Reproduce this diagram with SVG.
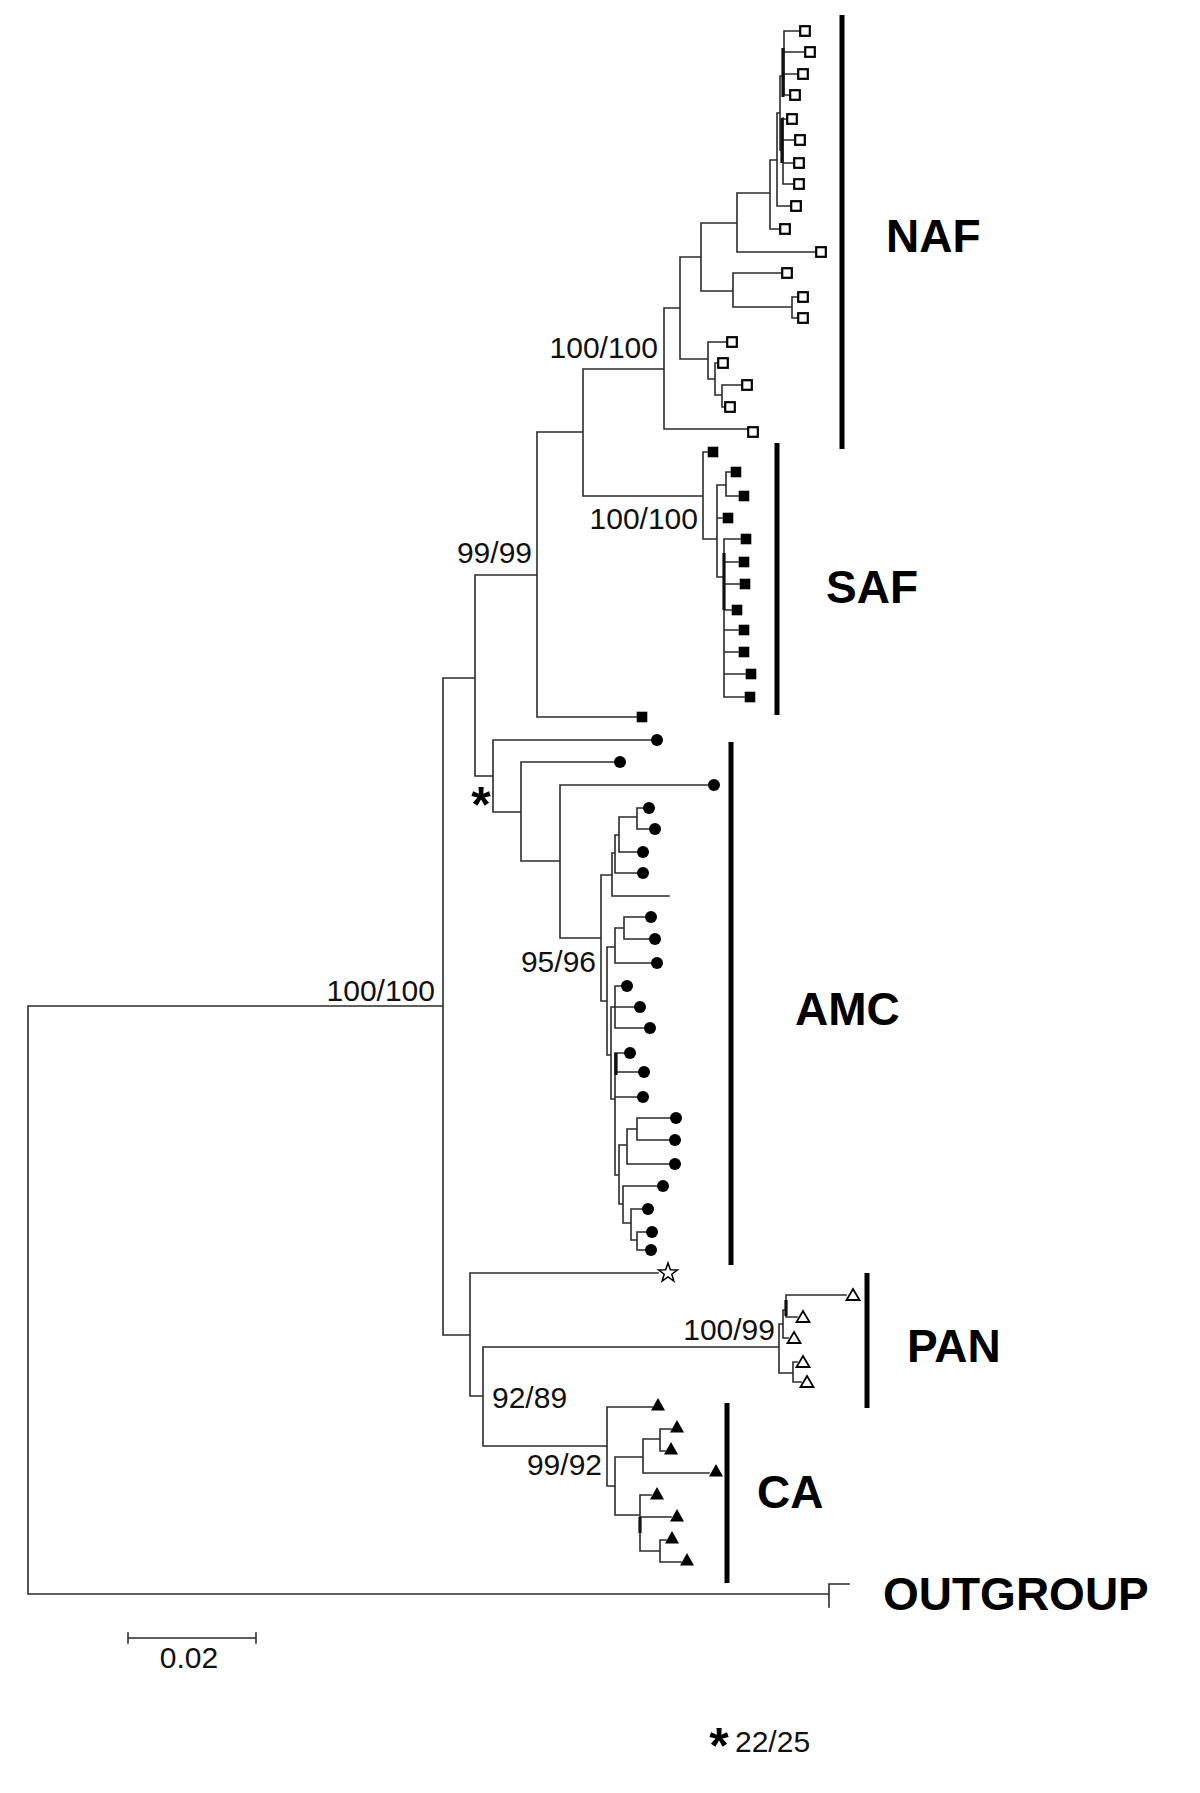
<svg xmlns="http://www.w3.org/2000/svg" xmlns:xlink="http://www.w3.org/1999/xlink" width="1200" height="1793" viewBox="0 0 1200 1793">
<style>
.br{fill:none;stroke:#2b2b2b;stroke-width:1.6;stroke-linecap:square}
.thk{fill:none;stroke:#111;stroke-width:3.2}
.bar{stroke:#000;stroke-width:5}
.bs{font-family:"Liberation Sans",Arial,sans-serif;font-size:30px;fill:#111}
.cl{font-family:"Liberation Sans",Arial,sans-serif;font-size:46px;font-weight:bold;fill:#000}
.ast{font-family:"Liberation Sans",Arial,sans-serif;font-size:50px;font-weight:bold;fill:#000}
</style>
<defs>
<rect id="os" x="-4.8" y="-4.8" width="9.6" height="9.6" fill="#fff" stroke="#000" stroke-width="2.2"/>
<rect id="fs" x="-5.3" y="-5.3" width="10.6" height="10.6" fill="#000"/>
<circle id="ci" r="6" fill="#000"/>
<polygon id="ft" points="0,-7 7,5.5 -7,5.5" fill="#000"/>
<polygon id="ot" points="0,-6 6.5,5 -6.5,5" fill="#fff" stroke="#000" stroke-width="1.8"/>
<polygon id="st" points="0,-10 2.35,-3.24 9.51,-3.09 3.8,1.23 5.88,8.09 0,4 -5.88,8.09 -3.8,1.23 -9.51,-3.09 -2.35,-3.24" fill="#fff" stroke="#000" stroke-width="1.5"/>
</defs>
<rect width="1200" height="1793" fill="#fff"/>

<g id="connectors">
<path class="br" d="M28 1006V1594M28 1006H443M28 1594H829M829 1584V1607M829 1584H849
M443 678V1335M443 678H475M443 1335H470
M475 575V776M475 575H537M475 776H493
M537 432V717M537 432H583M537 717H637
M583 369V496M583 369H664M583 496H703
M664 308V429M664 308H680M664 429H747
M680 257V359M680 257H701M680 359H708
M701 223V291M701 223H737M701 291H733
M737 193V252M737 193H770M737 252H815
M770 160V229M770 160H777M770 229H779
M777 113V206M777 113H780M777 206H790
M780 76V150M780 76H784M780 150H783
M784 31V95M784 31H799M784 52H804M784 74H797M784 95H789
M783 118V184M783 119H786M783 140H794M783 163H793M783 184H793
M733 273V307M733 273H781M733 307H792
M792 297V318M792 297H797M792 318H797
M708 342V379M708 342H726M708 379H715
M715 363V395M715 363H717M715 395H722
M722 385V407M722 385H741M722 407H724
M703 452V539M703 452H707M703 539H717
M717 485V577M717 485H726M717 518H722M717 577H724
M726 472V496M726 472H730M726 496H738
M724 539V697M724 539H740M724 562H738M724 584H739M724 610H731M724 630H738M724 652H738M724 674H745M724 697H744
M493 740V812M493 740H651M493 812H521
M521 762V861M521 762H614M521 861H560
M560 785V938M560 785H708M560 938H601
M601 875V1001M601 875H612M601 1001H607
M612 853V896M612 853H615M612 896H669
M615 835V873M615 835H619M615 873H637
M619 817V852M619 817H637M619 852H637
M637 808V829M637 808H643M637 829H649
M607 947V1055M607 947H615M607 1055H611
M615 928V963M615 928H624M615 963H651
M624 917V939M624 917H645M624 939H649
M611 1007V1099M611 1007H615M611 1099H615
M615 986V1028M615 986H621M615 1007H634M615 1028H644
M615 1053V1175M615 1053H624M615 1072H638M615 1097H637M615 1175H619
M619 1145V1204M619 1145H627M619 1204H623
M627 1129V1164M627 1129H637M627 1164H669
M637 1118V1140M637 1118H670M637 1140H669
M623 1186V1223M623 1186H657M623 1223H631
M631 1209V1240M631 1209H642M631 1240H637
M637 1232V1250M637 1232H646M637 1250H645
M470 1273V1396M470 1273H658M470 1396H483
M483 1347V1446M483 1347H779M483 1446H607
M779 1324V1373M779 1324H783M779 1373H793
M783 1310V1338M783 1310H786M783 1338H788
M786 1295V1317M786 1295H846M786 1317H797
M793 1362V1382M793 1362H797M793 1382H801
M607 1407V1486M607 1407H652M607 1486H615
M615 1457V1515M615 1457H643M615 1515H640
M643 1439V1473M643 1439H660M643 1473H709
M660 1429V1451M660 1429H671M660 1451H665
M640 1495V1551M640 1495H651M640 1517H671M640 1551H660
M660 1540V1562M660 1540H666M660 1562H681"/>
<path class="thk" d="M782 118V163M724 553V610M616 1053V1075M786 1300V1316M640 1517V1533M783 48V97"/>
</g>

<g id="NAF">
<use href="#os" x="805" y="31"/><use href="#os" x="810" y="52"/><use href="#os" x="803" y="74"/><use href="#os" x="795" y="95"/>
<use href="#os" x="792" y="119"/><use href="#os" x="800" y="140"/><use href="#os" x="799" y="163"/><use href="#os" x="799" y="184"/>
<use href="#os" x="796" y="206"/><use href="#os" x="785" y="229"/><use href="#os" x="821" y="252"/><use href="#os" x="787" y="273"/>
<use href="#os" x="803" y="297"/><use href="#os" x="803" y="318"/><use href="#os" x="732" y="342"/><use href="#os" x="723" y="363"/>
<use href="#os" x="747" y="385"/><use href="#os" x="730" y="407"/><use href="#os" x="753" y="432"/>
<line class="bar" x1="842" y1="15" x2="842" y2="449"/>
<text class="cl" x="886" y="252">NAF</text>
</g>

<g id="SAF">
<use href="#fs" x="713" y="452"/><use href="#fs" x="736" y="472"/><use href="#fs" x="744" y="496"/><use href="#fs" x="728" y="518"/>
<use href="#fs" x="746" y="539"/><use href="#fs" x="744" y="562"/><use href="#fs" x="745" y="584"/><use href="#fs" x="737" y="610"/>
<use href="#fs" x="744" y="630"/><use href="#fs" x="744" y="652"/><use href="#fs" x="751" y="674"/><use href="#fs" x="750" y="697"/>
<use href="#fs" x="642" y="717"/>
<line class="bar" x1="777" y1="443" x2="777" y2="715"/>
<text class="cl" x="826" y="603">SAF</text>
</g>

<g id="AMC">
<use href="#ci" x="657" y="740"/><use href="#ci" x="620" y="762"/><use href="#ci" x="714" y="785"/><use href="#ci" x="649" y="808"/>
<use href="#ci" x="655" y="829"/><use href="#ci" x="643" y="852"/><use href="#ci" x="643" y="873"/><use href="#ci" x="651" y="917"/>
<use href="#ci" x="655" y="939"/><use href="#ci" x="657" y="963"/><use href="#ci" x="627" y="986"/><use href="#ci" x="640" y="1007"/>
<use href="#ci" x="650" y="1028"/><use href="#ci" x="630" y="1053"/><use href="#ci" x="644" y="1072"/><use href="#ci" x="643" y="1097"/>
<use href="#ci" x="676" y="1118"/><use href="#ci" x="675" y="1140"/><use href="#ci" x="675" y="1164"/><use href="#ci" x="663" y="1186"/>
<use href="#ci" x="648" y="1209"/><use href="#ci" x="652" y="1232"/><use href="#ci" x="651" y="1250"/>
<line class="bar" x1="731" y1="742" x2="731" y2="1265"/>
<text class="cl" x="795" y="1025">AMC</text>
</g>

<g id="star-tip"><use href="#st" x="668" y="1273"/></g>

<g id="PAN">
<use href="#ot" x="853" y="1295"/><use href="#ot" x="803" y="1317"/><use href="#ot" x="794" y="1338"/><use href="#ot" x="803" y="1362"/><use href="#ot" x="807" y="1382"/>
<line class="bar" x1="867" y1="1273" x2="867" y2="1408"/>
<text class="cl" x="907" y="1362">PAN</text>
</g>

<g id="CA">
<use href="#ft" x="658" y="1405"/><use href="#ft" x="677" y="1427"/><use href="#ft" x="671" y="1449"/><use href="#ft" x="716" y="1471"/>
<use href="#ft" x="657" y="1494"/><use href="#ft" x="677" y="1516"/><use href="#ft" x="672" y="1538"/><use href="#ft" x="687" y="1560"/>
<line class="bar" x1="727" y1="1403" x2="727" y2="1583"/>
<text class="cl" x="757" y="1508">CA</text>
</g>

<g id="OUTGROUP">
<text class="cl" x="883" y="1610">OUTGROUP</text>
</g>

<g id="support-labels">
<text class="bs" x="658" y="358" text-anchor="end">100/100</text>
<text class="bs" x="698" y="529" text-anchor="end">100/100</text>
<text class="bs" x="532" y="563" text-anchor="end">99/99</text>
<text class="bs" x="435" y="1001" text-anchor="end">100/100</text>
<text class="bs" x="596" y="972" text-anchor="end">95/96</text>
<text class="bs" x="775" y="1340" text-anchor="end">100/99</text>
<text class="bs" x="492" y="1408">92/89</text>
<text class="bs" x="602" y="1475" text-anchor="end">99/92</text>
<text class="ast" x="481" y="822" text-anchor="middle">*</text>
</g>

<g id="scale-bar">
<path class="br" d="M128 1638H256M128 1633V1643M256 1633V1643"/>
<text class="bs" x="189" y="1668" text-anchor="middle">0.02</text>
</g>

<g id="footnote">
<text class="ast" x="719" y="1763" text-anchor="middle">*</text>
<text class="bs" x="735" y="1752">22/25</text>
</g>
</svg>
